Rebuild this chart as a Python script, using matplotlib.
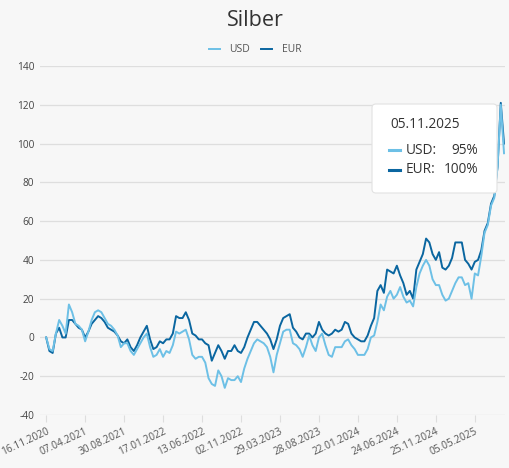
import matplotlib
matplotlib.use("Agg")
import matplotlib.pyplot as plt
from matplotlib.patches import FancyBboxPatch
from matplotlib.lines import Line2D

# ---- data (percent change since 16.11.2020) ----
usd = [0, -6, -7, 2, 9, 6, 2, 17, 13, 7, 6, 4,
       -2, 3, 9, 13, 14, 13, 10, 7, 6, 4, 1, -5,
       -3, -3, -7, -9, -6, -3, 0, 2, -5, -10, -9, -6,
       -10, -7, -8, -4, 3, 2, 3, 4, -1, -9, -11, -10,
       -10, -13, -21, -24, -25, -17, -20, -26, -21, -22, -22, -20,
       -23, -16, -11, -7, -3, -1, -2, -3, -5, -10, -18, -9,
       -3, 3, 4, 4, -3, -4, -6, -10, -5, 1, -4, -7,
       0, 2, -4, -9, -10, -5, -5, -5, -2, -1, -4, -6,
       -9, -9, -9, -6, 0, 1, 8, 17, 14, 21, 24, 20,
       22, 26, 21, 18, 19, 16, 26, 33, 37, 40, 37, 30,
       27, 27, 22, 19, 20, 24, 28, 31, 31, 27, 28, 20,
       33, 32, 42, 54, 58, 68, 72, 88, 120, 95]
eur = [0, -7, -8, 2, 5, 0, 0, 9, 9, 7, 5, 4,
       0, 3, 7, 9, 11, 10, 8, 5, 4, 3, 1, -2,
       -3, -1, -5, -7, -4, 0, 3, 6, -1, -6, -5, -2,
       -3, -1, -1, 2, 11, 10, 10, 13, 9, 2, 1, -1,
       -1, -3, -4, -12, -8, -4, -7, -11, -7, -7, -4, -7,
       -8, -5, 0, 4, 8, 8, 6, 4, 2, -1, -6, -1,
       6, 10, 11, 12, 5, 3, 0, -1, 2, 2, 0, 2,
       8, 4, 2, 1, 2, 4, 3, 4, 8, 7, 2, 0,
       -1, -2, -2, 1, 6, 10, 24, 27, 23, 35, 34, 33,
       37, 32, 28, 22, 24, 20, 35, 39, 43, 51, 49, 43,
       40, 44, 36, 35, 37, 41, 49, 49, 49, 40, 38, 35,
       39, 40, 45, 55, 59, 69, 73, 88, 121, 100]
tick_labels = ["16.11.2020", "07.04.2021", "30.08.2021", "17.01.2022",
               "13.06.2022", "02.11.2022", "29.03.2023", "28.08.2023",
               "22.01.2024", "24.06.2024", "25.11.2024", "05.05.2025"]
tick_every = 12
last_date = "05.11.2025"
series_names = ["USD", "EUR"]
y_ticks = [-40, -20, 0, 20, 40, 60, 80, 100, 120, 140]

# ---- style ----
BG = "#f7f7f7"
GRID = "#dedede"
C_USD = "#6dc0e6"
C_EUR = "#0a66a0"
TXT = "#555555"
plt.rcParams["font.family"] = ["Open Sans", "DejaVu Sans"]

fig = plt.figure(figsize=(5.1, 4.68), dpi=100, facecolor=BG)
ax = fig.add_axes([40 / 510, 1 - 415 / 468, 465 / 510, 349 / 468])
ax.set_facecolor(BG)

x = list(range(len(usd)))
ax.plot(x, usd, color=C_USD, lw=1.4, label=series_names[0], zorder=3,
        solid_joinstyle="round")
ax.plot(x, eur, color=C_EUR, lw=1.4, label=series_names[1], zorder=2,
        solid_joinstyle="round")

ax.set_ylim(-40, 140)
ax.set_xlim(-1.9, len(usd) - 1 + 0.3)
ax.set_yticks(y_ticks)
ax.set_yticklabels([str(v) for v in y_ticks])
ax.grid(axis="y", color=GRID, lw=0.9)
ax.set_axisbelow(True)
for s in ax.spines.values():
    s.set_visible(False)

tpos = [i * tick_every for i in range(len(tick_labels))]
ax.set_xticks(tpos)
ax.set_xticklabels(tick_labels, rotation=25, ha="right", va="top",
                   rotation_mode="anchor")
ax.tick_params(axis="x", length=5, width=0.8, color=GRID, pad=3,
               labelsize=7.3, labelcolor=TXT)
ax.tick_params(axis="y", length=0, pad=4, labelsize=7.3, labelcolor="#444444")

fig.text(0.5, 1 - 21 / 468, "Silber", ha="center", va="center",
         fontsize=15.5, color="#333333")

fig.legend(loc="center", bbox_to_anchor=(255 / 510, 1 - 50 / 468),
           ncol=2, frameon=False, fontsize=7.5, handlelength=1.1,
           handletextpad=0.9, columnspacing=1.0, labelcolor=TXT)

# ---- tooltip ----
bx0, by0, bx1, by1 = 372 / 510, 1 - 193 / 468, 497 / 510, 1 - 104 / 468
box = FancyBboxPatch((bx0, by0), bx1 - bx0, by1 - by0,
                     boxstyle="round,pad=0,rounding_size=0.008",
                     transform=fig.transFigure, facecolor="white",
                     edgecolor="#e2e2e2", lw=0.8, zorder=10)
fig.patches.append(box)
fig.text(390 / 510, 1 - 125 / 468, last_date, ha="left", va="center",
         fontsize=9.8, color="#333333", zorder=11)
rows = [(series_names[0], usd[-1], C_USD, 150),
        (series_names[1], eur[-1], C_EUR, 169.5)]
for name, val, col, yy in rows:
    fy = 1 - yy / 468
    fig.lines.append(Line2D([389 / 510, 400 / 510], [fy, fy], color=col,
                            lw=2.2, transform=fig.transFigure, zorder=11))
    fig.text(406 / 510, fy, name + ":", ha="left", va="center",
             fontsize=9.8, color="#333333", zorder=11)
    fig.text(478.5 / 510, fy, f"{val}%", ha="right", va="center",
             fontsize=9.8, color="#333333", zorder=11)

fig.savefig("out.png", dpi=100, facecolor=BG)
